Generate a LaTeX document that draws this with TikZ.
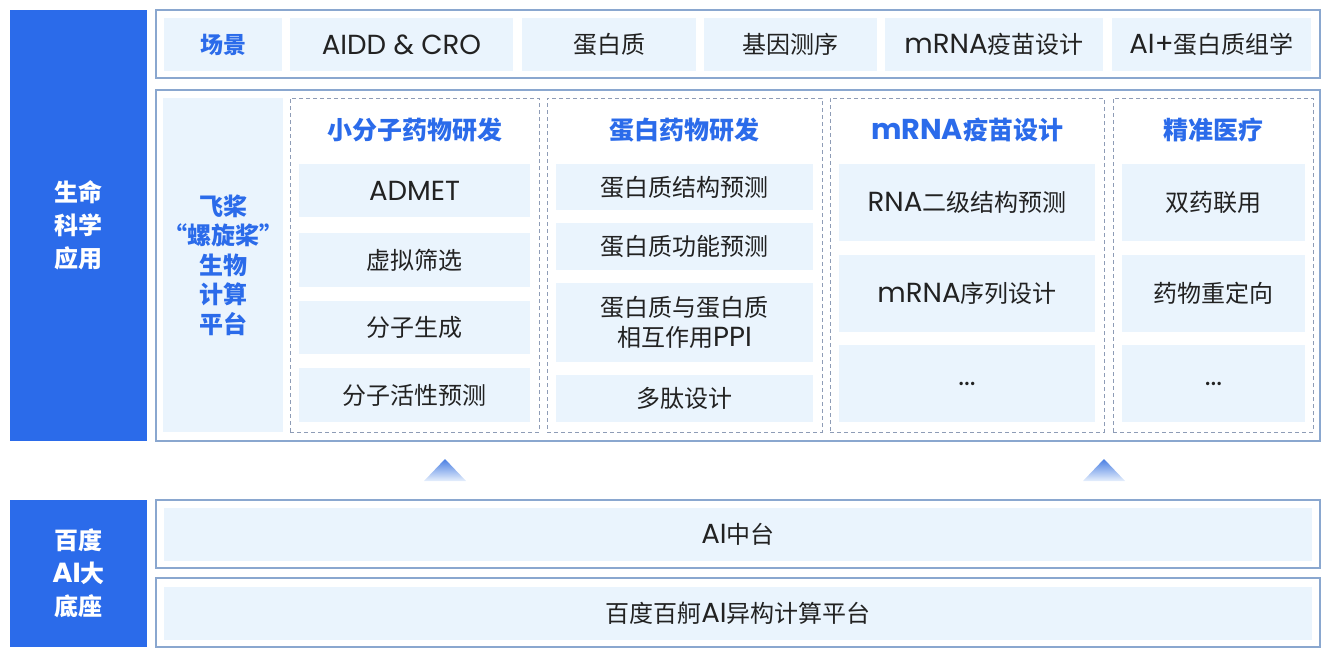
\documentclass[tikz,border=0pt]{standalone}
\usepackage{fontspec}
\setmainfont{Poppins}[Scale=1.15]
\newfontfamily\latinfont{Poppins}[Scale=1.15]
\newfontfamily\cjkfont{Noto Sans CJK SC}

% Chinese characters in the CJK font, the rest in the Latin one
\XeTeXinterchartokenstate=1
\newXeTeXintercharclass\cjkclass
\newcount\cjkcode
\cjkcode="4E00
\loop \XeTeXcharclass\cjkcode=\cjkclass \advance\cjkcode by 1 \ifnum\cjkcode<"A000 \repeat
\XeTeXcharclass"201C=\cjkclass
\XeTeXcharclass"201D=\cjkclass
\XeTeXinterchartoks 0 \cjkclass = {\cjkfont}
\XeTeXinterchartoks 4095 \cjkclass = {\cjkfont}
\XeTeXinterchartoks \cjkclass 0 = {\latinfont}

\definecolor{baseblue}{HTML}{2B6BEA}
\definecolor{cellblue}{HTML}{EAF4FD}
\definecolor{framegray}{HTML}{8AA7CF}
\definecolor{dashgray}{HTML}{8E9CB6}
\definecolor{inktext}{HTML}{222222}
\definecolor{arrowblue}{HTML}{4A7FE3}
\definecolor{arrowpale}{HTML}{E6EFFC}

\tikzset{
  band/.style={draw=framegray, line width=1.2pt, minimum width=1164pt, inner sep=0pt},
  sidebar/.style={fill=baseblue, text=white, align=center, inner sep=0pt,
    minimum width=137pt, font=\fontsize{24}{33}\selectfont\bfseries},
  cell/.style={fill=cellblue, text=inktext, align=center, inner sep=0pt,
    font=\fontsize{24}{30}\selectfont},
  group/.style={draw=dashgray, dash pattern=on 4pt off 3pt, line width=0.8pt,
    minimum height=334pt, inner sep=0pt},
  headline/.style={text=baseblue, font=\fontsize{25}{30}\selectfont\bfseries},
  uparrow/.style={top color=arrowblue, bottom color=arrowpale}
}

\begin{document}
\begin{tikzpicture}[x=1pt, y=-1pt]
  \useasboundingbox (0,0) rectangle (1324,651);

  % side labels
  \node[sidebar, minimum height=431pt] (life) at (78.5,225.5) {生命\\科学\\应用};
  \node[sidebar, minimum height=147pt] (base) at (78.5,573.5) {百度\\AI大\\底座};

  % scenes
  \node[band, minimum height=68pt] (scenes) at (738,44) {};
  \node[cell, minimum width=118pt, minimum height=53pt, text=baseblue, font=\fontsize{23}{30}\selectfont\bfseries] (scene) at (223,44.5) {场景};
  \node[cell, minimum width=223pt, minimum height=53pt] (aidd) at (401.5,44.5) {AIDD \& CRO};
  \node[cell, minimum width=174pt, minimum height=53pt] (protein) at (609,44.5) {蛋白质};
  \node[cell, minimum width=173pt, minimum height=53pt] (genome) at (790.5,44.5) {基因测序};
  \node[cell, minimum width=218pt, minimum height=53pt] (vaccine) at (994,44.5) {mRNA疫苗设计};
  \node[cell, minimum width=199pt, minimum height=53pt] (proteomics) at (1211.5,44.5) {AI+蛋白质组学};

  % platform
  \node[band, minimum height=351pt] (platform) at (738,265.5) {};
  \node[cell, minimum width=118pt, minimum height=334pt, text=baseblue, font=\fontsize{24}{29.5}\selectfont\bfseries] (paddle) at (223,265) {飞桨\\“螺旋桨”\\生物\\计算\\平台};

  \node[group, minimum width=249pt] (small) at (414.5,265) {};
  \node[group, minimum width=275pt] (bio) at (684.5,265) {};
  \node[group, minimum width=274pt] (mrna) at (967,265) {};
  \node[group, minimum width=200pt] (precise) at (1213,265) {};

  \node[headline] (small-t) at (414.5,130) {小分子药物研发};
  \node[headline] (bio-t) at (684.5,130) {蛋白药物研发};
  \node[headline] (mrna-t) at (967,130) {mRNA疫苗设计};
  \node[headline] (precise-t) at (1213,130) {精准医疗};

  \node[cell, minimum width=231pt, minimum height=53pt] (small-1) at (414.5,190.5) {ADMET};
  \node[cell, minimum width=231pt, minimum height=54pt] (small-2) at (414.5,260) {虚拟筛选};
  \node[cell, minimum width=231pt, minimum height=53pt] (small-3) at (414.5,327.5) {分子生成};
  \node[cell, minimum width=231pt, minimum height=54pt] (small-4) at (414.5,395) {分子活性预测};

  \node[cell, minimum width=257pt, minimum height=46pt] (bio-1) at (684.5,187) {蛋白质结构预测};
  \node[cell, minimum width=257pt, minimum height=47pt] (bio-2) at (684.5,246.5) {蛋白质功能预测};
  \node[cell, minimum width=257pt, minimum height=79pt] (bio-3) at (684.5,322.5) {蛋白质与蛋白质\\相互作用PPI};
  \node[cell, minimum width=257pt, minimum height=47pt] (bio-4) at (684.5,398.5) {多肽设计};

  \node[cell, minimum width=256pt, minimum height=77pt] (mrna-1) at (967,202.5) {RNA二级结构预测};
  \node[cell, minimum width=256pt, minimum height=77pt] (mrna-2) at (967,293.5) {mRNA序列设计};
  \node[cell, minimum width=256pt, minimum height=77pt] (mrna-3) at (967,383.5) {...};

  \node[cell, minimum width=183pt, minimum height=77pt] (precise-1) at (1213.5,202.5) {双药联用};
  \node[cell, minimum width=183pt, minimum height=77pt] (precise-2) at (1213.5,293.5) {药物重定向};
  \node[cell, minimum width=183pt, minimum height=77pt] (precise-3) at (1213.5,383.5) {...};

  % arrows up
  \shade[uparrow] (424,481) -- (445,459) -- (466,481) -- cycle;
  \shade[uparrow] (1083,481) -- (1104,459) -- (1125,481) -- cycle;

  % base layers
  \node[band, minimum height=68pt] (middle) at (738,534) {};
  \node[cell, minimum width=1148pt, minimum height=53pt] (middle-c) at (738,534.5) {AI中台};
  \node[band, minimum height=69pt] (compute) at (738,612.5) {};
  \node[cell, minimum width=1148pt, minimum height=53pt] (compute-c) at (738,613.5) {百度百舸AI异构计算平台};
\end{tikzpicture}
\end{document}
